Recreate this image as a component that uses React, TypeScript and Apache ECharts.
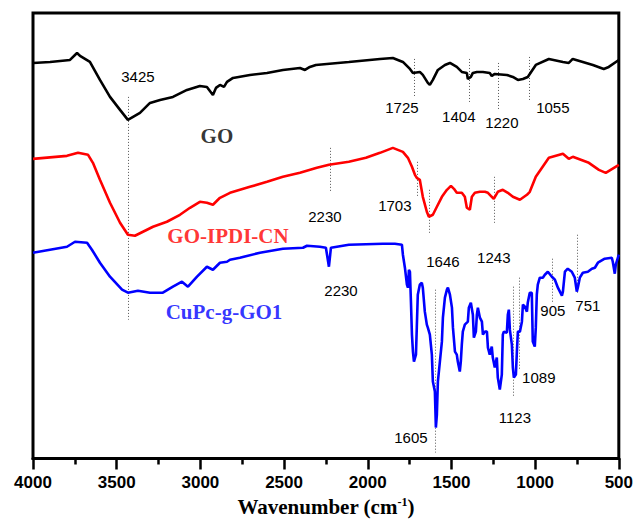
import React, { useEffect, useRef } from "react";
import * as echarts from "echarts";

// FTIR spectra, [wavenumber (cm-1), transmittance (a.u., offset)]
const goData: number[][] = [
  [4000, 396], [3898, 397], [3779, 399], [3737, 406], [3719, 403], [3660, 397], [3600, 379],
  [3540, 362], [3480, 349], [3433, 339], [3361, 346], [3301, 356], [3241, 359], [3164, 362],
  [3080, 369], [3003, 373], [2961, 372], [2925, 364], [2907, 371], [2883, 374], [2859, 372],
  [2841, 377], [2805, 381], [2704, 384], [2602, 386], [2507, 389], [2405, 391], [2375, 389],
  [2346, 392], [2310, 394], [2113, 397], [1927, 400], [1850, 401], [1790, 397], [1748, 390],
  [1730, 386], [1689, 387], [1671, 384], [1641, 376], [1629, 374], [1611, 379], [1581, 389],
  [1539, 394], [1509, 396], [1468, 392], [1438, 387], [1408, 386], [1402, 380], [1384, 382],
  [1372, 386], [1348, 387], [1312, 387], [1271, 386], [1259, 383], [1241, 385], [1169, 384],
  [1133, 382], [1103, 379], [1073, 380], [1044, 382], [996, 394], [918, 400], [834, 397],
  [799, 396], [775, 400], [715, 397], [655, 394], [590, 390], [560, 392], [500, 399],
];

const goIpdiCnData: number[][] = [
  [4000, 300], [3797, 303], [3731, 306], [3671, 304], [3642, 296], [3600, 279], [3540, 256],
  [3480, 236], [3433, 224], [3391, 223], [3343, 227], [3283, 232], [3200, 237], [3122, 244],
  [3062, 251], [3003, 257], [2961, 256], [2925, 254], [2883, 261], [2823, 266], [2704, 272],
  [2602, 277], [2507, 282], [2405, 286], [2304, 291], [2232, 294], [2113, 297], [2011, 301],
  [1927, 306], [1850, 311], [1790, 307], [1760, 301], [1736, 292], [1718, 284], [1707, 281],
  [1689, 279], [1671, 262], [1647, 247], [1635, 242], [1611, 244], [1587, 252], [1557, 262],
  [1527, 269], [1503, 273], [1485, 270], [1468, 266], [1438, 266], [1420, 262], [1408, 251],
  [1390, 249], [1378, 262], [1360, 266], [1330, 267], [1300, 267], [1282, 266], [1259, 262],
  [1247, 260], [1223, 267], [1193, 269], [1163, 266], [1133, 262], [1091, 259], [1049, 264],
  [1032, 267], [996, 282], [918, 301], [834, 305], [799, 300], [775, 302], [679, 296],
  [619, 289], [578, 286], [500, 294],
];

const cuPcGoData: number[][] = [
  [4000, 206], [3797, 212], [3749, 217], [3677, 216], [3648, 209], [3600, 196], [3540, 182],
  [3468, 169], [3433, 166], [3373, 168], [3301, 166], [3224, 166], [3164, 172], [3110, 177],
  [3074, 172], [3020, 182], [2961, 192], [2925, 189], [2883, 196], [2841, 197], [2823, 199],
  [2764, 201], [2644, 206], [2507, 210], [2387, 211], [2363, 213], [2286, 212], [2250, 211],
  [2232, 192], [2220, 211], [2113, 214], [1910, 215], [1838, 215], [1796, 214], [1790, 204],
  [1778, 191], [1766, 174], [1760, 171], [1754, 189], [1748, 187], [1742, 157], [1736, 124],
  [1730, 107], [1724, 97], [1712, 104], [1707, 131], [1701, 164], [1689, 174], [1677, 176],
  [1671, 171], [1659, 147], [1647, 134], [1641, 131], [1629, 124], [1617, 104], [1611, 77],
  [1599, 67], [1593, 31], [1587, 44], [1581, 77], [1569, 97], [1557, 117], [1551, 141],
  [1539, 161], [1527, 169], [1521, 171], [1509, 164], [1497, 151], [1491, 131], [1479, 107],
  [1468, 104], [1462, 97], [1450, 87], [1444, 97], [1438, 114], [1432, 127], [1420, 134],
  [1402, 137], [1396, 151], [1384, 156], [1372, 144], [1366, 121], [1354, 127], [1348, 144],
  [1342, 151], [1330, 141], [1318, 137], [1312, 124], [1300, 127], [1288, 127], [1282, 111],
  [1271, 104], [1259, 112], [1253, 101], [1241, 91], [1229, 101], [1223, 81], [1211, 69],
  [1199, 84], [1193, 124], [1187, 127], [1169, 126], [1163, 144], [1157, 149], [1151, 129],
  [1139, 114], [1133, 91], [1127, 81], [1115, 84], [1109, 107], [1103, 127], [1091, 127],
  [1079, 137], [1073, 154], [1061, 152], [1049, 147], [1044, 156], [1032, 166], [1020, 166],
  [1014, 117], [1002, 112], [996, 131], [990, 164], [984, 174], [972, 181], [954, 181],
  [942, 184], [924, 187], [900, 182], [882, 179], [864, 171], [840, 163], [834, 167],
  [822, 187], [805, 190], [781, 187], [763, 181], [751, 167], [745, 171], [733, 181],
  [715, 186], [685, 187], [661, 190], [643, 191], [625, 196], [584, 200], [542, 201],
  [536, 197], [524, 185], [518, 194], [500, 204],
];

// Peak guide lines: [wavenumber, from, to]
const peakLines: number[][] = [
  [3428, 362, 139], [1720, 400, 362], [1396, 400, 357], [1223, 396, 349], [1038, 402, 359],
  [2226, 311, 267], [1707, 297, 262], [1635, 269, 226], [1247, 282, 236],
  [1599, 169, 6], [1133, 172, 61], [1097, 181, 89], [900, 200, 156], [751, 224, 166],
];

// Peak labels: [text, wavenumber, value]
const peakLabels: (string | number)[][] = [
  ["3425", 3373, 382], ["1725", 1796, 351], ["1404", 1456, 342], ["1220", 1199, 336],
  ["1055", 894, 351], ["2230", 2256, 242], ["1703", 1838, 253], ["1646", 1551, 197],
  ["1243", 1247, 201], ["2230", 2160, 168], ["1605", 1742, 21], ["1123", 1121, 41],
  ["1089", 978, 81], ["905", 894, 148], ["751", 685, 153],
];

// Sample names: [text, wavenumber, value]
const sampleLabels: (string | number)[][] = [
  ["GO", 2901, 323], ["GO-IPDI-CN", 2835, 223], ["CuPc-g-GO1", 2859, 147],
];
const sampleColors = ["#000000", "#ff0000", "#0000ff"];
const xTicks = { min: 500, max: 4000, step: 500 };

export default function App() {
  const ref = useRef<HTMLDivElement>(null);
  useEffect(() => {
    if (!ref.current) return;
    const chart = echarts.init(ref.current, undefined, { renderer: "svg" });
    const sans = "'Liberation Sans', Arial, sans-serif";
    const serif = "'Liberation Serif', 'Times New Roman', serif";
    const lineSeries = (data: number[][], color: string) => ({
      type: "line",
      data,
      symbol: "none",
      showSymbol: false,
      silent: true,
      lineStyle: { color, width: 2.6 },
      z: 3,
    });
    chart.setOption({
      animation: false,
      backgroundColor: "#ffffff",
      grid: {
        left: 33, right: 17, top: 13, bottom: 63,
        show: true, borderColor: "#000", borderWidth: 3, backgroundColor: "transparent",
      },
      xAxis: {
        type: "value",
        min: xTicks.min,
        max: xTicks.max,
        interval: xTicks.step,
        inverse: true,
        axisLine: { show: true, lineStyle: { color: "#000", width: 3 } },
        axisTick: { show: true, inside: false, length: 11, lineStyle: { color: "#000", width: 2.5 } },
        minorTick: { show: true, splitNumber: 2, length: 6, lineStyle: { color: "#000", width: 2.5 } },
        splitLine: { show: false },
        minorSplitLine: { show: false },
        axisLabel: {
          color: "#000", fontSize: 17, fontWeight: "bold", fontFamily: sans, margin: 15,
          formatter: (v: number) => String(v),
        },
        name: "{a|Wavenumber (cm}{s|-1}{a|)}",
        nameLocation: "middle",
        nameGap: 37,
        nameTextStyle: {
          rich: {
            a: { fontSize: 21, fontWeight: "bold", fontFamily: serif, color: "#000" },
            s: { fontSize: 12, fontWeight: "bold", fontFamily: serif, color: "#000", padding: [0, 0, 10, 0] },
          },
        },
      },
      yAxis: { type: "value", min: 0, max: 446, show: false },
      series: [
        {
          type: "lines",
          coordinateSystem: "cartesian2d",
          silent: true,
          data: peakLines.map(([w, a, b]) => ({ coords: [[w, a], [w, b]] })),
          lineStyle: { color: "#555", width: 1, type: [1, 2], opacity: 1 },
          z: 2,
        },
        lineSeries(goData, sampleColors[0]),
        lineSeries(goIpdiCnData, sampleColors[1]),
        lineSeries(cuPcGoData, sampleColors[2]),
        {
          type: "scatter",
          silent: true,
          symbolSize: 0,
          data: peakLabels.map(([t, w, y]) => ({ value: [w, y], name: String(t) })),
          label: {
            show: true, position: "inside", formatter: "{b}",
            color: "#000", fontSize: 15, fontFamily: sans, textBorderWidth: 0, opacity: 1,
          },
          z: 4,
        },
        {
          type: "scatter",
          silent: true,
          symbolSize: 0,
          data: sampleLabels.map(([t, w, y], i) => ({
            value: [w, y], name: String(t), label: { color: sampleColors[i] },
          })),
          label: {
            show: true, position: "inside", formatter: "{b}",
            fontSize: 21, fontWeight: "bold", fontFamily: serif, textBorderWidth: 0,
          },
          z: 4,
        },
      ],
    });
    return () => chart.dispose();
  }, []);
  return (
    <div
      ref={ref}
      style={{ position: "fixed", left: 0, top: 0, width: 636, height: 522, background: "#fff" }}
    />
  );
}
